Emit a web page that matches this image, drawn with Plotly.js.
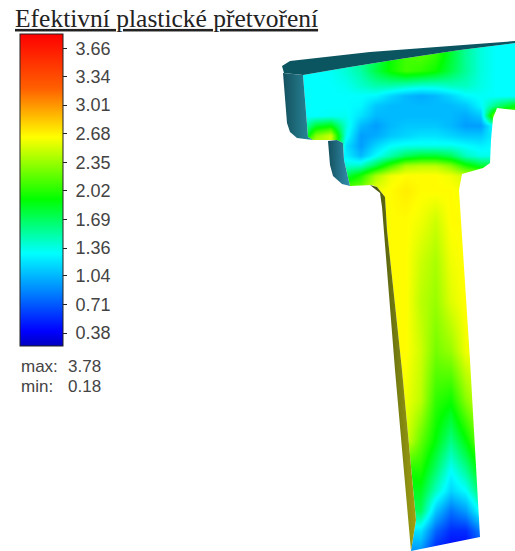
<!DOCTYPE html>
<html><head><meta charset="utf-8">
<script src="https://cdn.plot.ly/plotly-3.0.1.min.js"></script>
<style>html,body{margin:0;padding:0;background:#fff}#c{width:515px;height:551px}</style>
</head><body><div id="c"></div>
<script>
const titleText = "Efektivní plastické přetvoření";
const tickVals = [3.66,3.34,3.01,2.68,2.35,2.02,1.69,1.36,1.04,0.71,0.38];
const maxLabel = "3.78", minLabel = "0.18";
const zLow = 0.23, zHigh = 3.83;
const scaleVals = [0.23,0.4,0.9,1.3,1.92,2.64,3.2,3.83];
const scaleCols = ["#0000c0","#0000ff","#0090ff","#00ffff","#00ff00","#ffff00","#ff6000","#ff0000"];
const fieldX = [300,315,330,345,360,375,390,405,420,435,450,465,480,495,515];
const fieldY = [40,55,70,85,95,105,115,125,135,145,155,165,175,190,220,260,300,350,400,440,470,490,510,530,551];
const fieldZ = [
 [1.3,1.3,1.32,1.4,1.55,1.7,1.95,2.1,2.15,2.05,1.8,1.55,1.38,1.3,1.3],
 [1.3,1.3,1.32,1.4,1.55,1.7,1.95,2.1,2.15,2.05,1.8,1.55,1.38,1.3,1.3],
 [1.3,1.3,1.32,1.4,1.52,1.75,1.95,2.1,2.05,1.95,1.75,1.55,1.38,1.3,1.3],
 [1.3,1.3,1.3,1.33,1.42,1.5,1.5,1.45,1.4,1.4,1.45,1.45,1.36,1.3,1.3],
 [1.3,1.3,1.3,1.3,1.3,1.28,1.15,1.05,1.0,1.05,1.15,1.28,1.32,1.3,1.3],
 [1.3,1.3,1.3,1.3,1.28,1.1,1.05,1.05,1.05,1.05,1.05,1.1,1.28,1.6,1.9],
 [1.3,1.3,1.32,1.33,1.2,1.05,1.05,1.05,1.05,1.05,1.05,1.0,1.1,2.4,2.4],
 [1.35,1.8,1.9,1.4,1.05,0.95,1.05,1.1,1.1,1.1,1.05,0.95,0.95,1.4,1.4],
 [1.5,2.3,2.5,1.35,0.95,1.0,1.1,1.15,1.2,1.2,1.15,1.1,1.1,1.3,1.3],
 [2.5,2.5,2.5,1.2,0.95,1.15,1.3,1.35,1.35,1.35,1.35,1.3,1.25,1.3,1.3],
 [1.25,1.25,1.25,1.25,1.05,1.3,1.5,1.7,1.8,1.8,1.7,1.45,1.35,1.35,1.35],
 [1.4,1.4,1.4,1.4,1.45,1.75,2.1,2.4,2.45,2.45,2.3,2.0,1.8,1.8,1.8],
 [1.75,1.75,1.75,1.75,2.0,2.4,2.6,2.65,2.65,2.65,2.6,2.5,2.5,2.5,2.5],
 [2.3,2.3,2.3,2.3,2.3,2.6,2.65,2.7,2.65,2.65,2.65,2.6,2.6,2.6,2.6],
 [2.65,2.65,2.65,2.65,2.65,2.65,2.65,2.65,2.6,2.5,2.65,2.65,2.65,2.65,2.65],
 [2.65,2.65,2.65,2.65,2.65,2.65,2.65,2.65,2.5,2.4,2.6,2.65,2.65,2.65,2.65],
 [2.65,2.65,2.65,2.65,2.65,2.65,2.65,2.65,2.45,2.35,2.55,2.65,2.65,2.65,2.65],
 [2.65,2.65,2.65,2.65,2.65,2.65,2.65,2.65,2.5,2.25,2.35,2.6,2.65,2.65,2.65],
 [2.6,2.6,2.6,2.6,2.6,2.6,2.6,2.6,2.45,2.05,1.95,2.3,2.55,2.55,2.55],
 [2.55,2.55,2.55,2.55,2.55,2.55,2.55,2.55,2.2,1.9,1.6,1.9,2.3,2.3,2.3],
 [2.0,2.0,2.0,2.0,2.0,2.0,2.0,2.0,2.0,1.65,1.3,1.55,1.95,1.95,1.95],
 [1.85,1.85,1.85,1.85,1.85,1.85,1.85,1.85,1.85,1.45,1.15,1.3,1.7,1.7,1.7],
 [1.7,1.7,1.7,1.7,1.7,1.7,1.7,1.7,1.7,1.1,0.8,0.95,1.35,1.35,1.35],
 [1.2,1.2,1.2,1.2,1.2,1.2,1.2,1.2,1.2,0.75,0.55,0.55,0.85,0.85,0.85],
 [0.9,0.9,0.9,0.9,0.9,0.9,0.9,0.9,0.9,0.5,0.4,0.4,0.6,0.6,0.6]
];
// silhouette of the cut face
const faceX = [515,460,400,350,303,308,313,337,343,344,350,372,377,385,387,402,416,411,480,470,459,462,483,490,491,493,497,515];
const faceY = [43,50,59,67,75,137,140,140,143,160,186,185,187,197,230,370,520,551,537,360,190,174,168,163,140,118,108,110];
const topX = [282,290,370,450,515,515,460,400,350,303,284];
const topY = [66,61,52,46,41,43,50,59,67,75,73];
const side1X = [283,303,308,313,297,290,287];
const side1Y = [73,75,137,140,138,132,123];
const side2X = [328,337,343,344,350,342,333,330];
const side2Y = [141,140,143,160,186,184,176,165];
const sliverX = [370,377,385,387,402,416,411,395,382,380];
const sliverY = [185,187,197,230,370,520,551,370,207,193];

const stops = scaleVals.map((v,i)=>[(v-zLow)/(zHigh-zLow),scaleCols[i]]);
const poly = (x,y,fill,grad)=>({type:"scatter",mode:"none",x,y,fill:"toself",fillcolor:fill,
  ...(grad?{fillgradient:{type:"horizontal",colorscale:[[0,grad[0]],[1,grad[1]]]}}:{}),hoverinfo:"skip",showlegend:false});
const maskX = [520,520,...faceX,520,520,-5,-5,520];
const maskY = [-5,43,...faceY,110,556,556,-5,-5];
const data = [
 {type:"heatmap",x:fieldX,y:fieldY,z:fieldZ,zsmooth:"best",zmin:zLow,zmax:zHigh,colorscale:stops,hoverinfo:"skip",
  colorbar:{thicknessmode:"pixels",thickness:43,lenmode:"pixels",len:312,x:20/515,xanchor:"left",xpad:0,ypad:0,
    y:1-34/551,yanchor:"top",tickmode:"array",tickvals:tickVals,ticktext:tickVals.map(v=>"\u00a0"+v.toFixed(2)),
    ticks:"outside",ticklen:4,tickcolor:"#222",tickwidth:1,outlinecolor:"#222",outlinewidth:1,
    tickfont:{family:"Liberation Sans",size:18,color:"#444"}}},
 poly(maskX,maskY,"#ffffff"),
 poly(topX,topY,"#0a5560"),
 poly(side1X,side1Y,"#1c6e80",["#14505e","#2a8ea0"]),
 poly(side2X,side2Y,"#1c6e80",["#14505e","#3390b0"]),
 poly(sliverX,sliverY,"#7f8a10",["#3a4a10","#a0a010"])
];
const label=(t,x,y)=>({text:t,x,y,xref:"x",yref:"y",xanchor:"left",yanchor:"middle",showarrow:false,
  font:{family:"Liberation Sans",size:17,color:"#444"}});
const layout = {width:515,height:551,margin:{l:0,r:0,t:0,b:0},paper_bgcolor:"#fff",plot_bgcolor:"#fff",showlegend:false,hovermode:false,
 title:{text:titleText,x:15/515,xanchor:"left",y:1-18/551,yanchor:"middle",
   font:{family:"Liberation Serif",size:25.5,color:"#222",lineposition:"under"}},
 xaxis:{range:[0,515],visible:false,fixedrange:true},
 yaxis:{range:[551,0],visible:false,fixedrange:true},
 annotations:[label("max:",19,366),label(maxLabel,66,366),label("min:",19,386),label(minLabel,66,386)]};
Plotly.newPlot("c",data,layout,{displayModeBar:false,staticPlot:true});
</script></body></html>
